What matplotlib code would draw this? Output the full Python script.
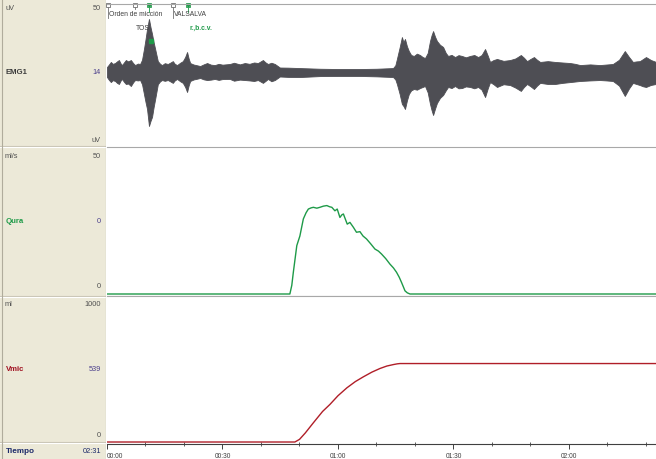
import matplotlib.pyplot as plt
import matplotlib.transforms as mtransforms
from matplotlib.ticker import MultipleLocator, FixedLocator

W, H = 656, 460

# EMG1 envelope, seconds / uV
emg_t = [0, 0.5, 1.0, 1.5, 2.1, 2.6, 3.1, 3.5, 3.9, 4.4, 4.9, 5.5, 6.2, 6.8, 7.3, 8.0, 8.6,
         9.1, 9.6, 10.0, 10.4, 10.9, 11.3, 11.7, 12.1, 12.5, 13.2, 13.8, 14.3, 15.0, 15.8,
         16.5, 17.1, 17.6, 18.2, 19.0, 19.7, 20.3, 20.8, 21.2, 21.6, 22.5, 23.3, 24.2,
         25.1, 26.0, 27.0, 28.0, 29.0, 30.0, 31.9, 33.0, 34.5, 35.8, 37.0, 38.2, 39.2,
         40.5, 41.2, 41.8, 42.7, 43.6, 44.3, 44.9, 47.0, 50.1, 55.3, 60.0, 65.7, 70.0,
         74.3, 74.9, 75.3, 76.0, 76.6, 77.0, 77.4, 77.9, 78.4, 79.0, 79.7, 80.5, 81.3,
         82.0, 82.6, 83.3, 83.9, 84.3, 84.7, 85.2, 85.7, 86.5, 87.3, 88.0, 88.6, 89.5,
         90.4, 91.3, 92.2, 93.2, 94.3, 95.4, 96.4, 97.3, 98.2, 98.9, 99.5, 100.4, 101.3,
         103.0, 104.7, 106.1, 107.5, 108.3, 109.1, 110.0, 110.9, 111.7, 112.5, 114.5,
         116.4, 118.3, 120.3, 121.6, 122.9, 125.5, 128.0, 129.7, 131.4, 133.0, 134.5,
         135.6, 136.6, 137.5, 138.4, 139.2, 140.0, 141.3, 142.6]
emg_hi = [3.7, 5.5, 7.4, 6.0, 6.6, 7.8, 8.8, 6.5, 5.1, 7.0, 8.8, 7.8, 8.8, 6.5, 5.1, 6.2,
          5.9, 9.0, 16.9, 24.0, 31.6, 39.0, 33.0, 28.0, 22.0, 17.0, 8.0, 6.0, 5.1, 6.5, 5.9,
          7.0, 8.0, 6.0, 5.1, 6.8, 8.0, 11.0, 14.7, 10.0, 6.6, 5.5, 5.0, 4.4,
          5.6, 6.6, 5.4, 5.1, 6.0, 5.4, 5.9, 6.8, 5.6, 6.6, 6.0, 7.0, 6.6,
          8.8, 7.0, 5.9, 6.8, 5.9, 4.5, 3.3, 3.2, 2.9, 2.4, 2.2, 2.2, 2.4,
          2.9, 5.0, 9.6, 18.0, 25.7, 22.0, 24.3, 19.0, 15.4, 12.5, 11.8, 13.5, 12.5,
          11.0, 10.3, 14.0, 22.8, 27.0, 30.1, 26.0, 22.8, 20.0, 18.4, 14.0, 11.8, 12.6,
          11.0, 12.4, 11.8, 10.8, 11.8, 12.5, 11.0, 12.5, 16.9, 12.0, 7.4, 8.8, 9.6,
          8.2, 8.8, 10.0, 12.5, 10.5, 8.0, 9.6, 11.0, 9.0, 7.4, 8.0,
          7.4, 7.0, 6.6, 6.0, 5.1, 5.6, 5.1, 5.5, 5.9, 9.0, 15.4,
          11.0, 7.4, 7.8, 8.0, 9.5, 11.0, 8.8, 7.4]
emg_lo = [-3.7, -5.8, -7.4, -6.0, -6.6, -8.0, -8.8, -6.5, -5.1, -7.2, -8.8, -8.5, -10.3,
          -7.5, -5.9, -6.2, -5.9, -9.0, -16.2, -22.0, -27.2, -39.7, -36.0, -33.0, -26.0,
          -20.0, -9.0, -6.8, -5.9, -6.5, -5.9, -7.0, -8.0, -6.2, -5.1, -6.8, -8.0, -11.0,
          -14.7, -10.0, -6.6, -5.5, -5.0, -4.4, -5.4, -5.9, -5.6, -5.1, -5.8, -5.2,
          -5.1, -6.4, -5.6, -5.9, -6.2, -6.6, -5.9, -8.0, -6.5, -5.1, -6.8, -5.9, -4.5,
          -3.3, -3.6, -3.7, -3.0, -2.9, -2.9, -3.2, -3.7, -5.5, -8.8, -16.0, -23.5,
          -25.0, -27.2, -21.0, -16.2, -13.5, -12.5, -13.0, -11.8, -11.0, -10.3, -15.0,
          -23.5, -28.0, -31.6, -27.0, -22.8, -19.0, -16.9, -13.5, -11.0, -11.8, -10.3,
          -12.0, -11.8, -10.6, -11.0, -12.0, -11.0, -13.0, -18.4, -12.0, -7.4, -9.0,
          -11.0, -9.0, -9.6, -11.5, -13.9, -11.0, -8.8, -10.5, -12.5, -10.0, -8.0, -8.8,
          -8.8, -8.0, -7.4, -7.0, -6.6, -6.2, -5.9, -6.2, -6.6, -10.0, -17.6, -12.0,
          -8.0, -8.8, -9.6, -10.5, -11.0, -9.5, -8.8]

# Qura (ml/s)
qura_t = [0, 47.5, 48.0, 48.4, 49.3, 50.1, 51.0, 51.7, 52.3, 53.0, 53.6, 54.5, 55.3,
          56.2, 57.1, 57.8, 58.4, 59.2, 59.8, 60.5, 61.0, 61.4, 62.0, 62.4, 63.1, 64.0,
          64.8, 65.7, 66.5, 67.4, 68.5, 69.6, 70.5, 71.3, 72.4, 73.5, 74.4, 75.2, 75.9,
          76.5, 77.0, 77.4, 78.0, 78.7, 142.6]
qura_v = [0, 0, 3.0, 7.5, 16.7, 20.0, 25.9, 28.0, 29.3, 29.7, 29.9, 29.6, 29.9,
          30.3, 30.5, 30.1, 29.9, 28.7, 29.3, 26.4, 27.3, 27.6, 25.5, 24.1, 24.7, 23.0,
          21.3, 21.5, 20.0, 19.0, 17.3, 15.5, 14.8, 13.8, 12.2, 10.3, 9.0, 7.5, 5.8,
          4.0, 2.4, 1.1, 0.4, 0, 0]

# Vmic (ml)
vmic_t = [0, 48.8, 50.0, 51.5, 53.6, 56.0, 57.9, 60.0, 62.3, 64.5, 66.6, 68.8, 70.9,
          72.7, 74.4, 75.4, 76.1, 142.6]
vmic_v = [0, 0, 18, 62, 132, 210, 258, 318, 372, 415, 448, 480, 505,
          522, 532, 537, 539, 539]

# event markers
event_t = [0.3, 7.3, 10.9, 17.1, 21.0]
event_kind = ['note', 'note', 'check', 'note', 'check']
event_text = ['Orden de micción', 'TOS', '', 'VALSALVA', 'r.,b.c.v.']

time_ticks = [0, 30, 60, 90, 120]
time_labels = ['00:00', '00:30', '01:00', '01:30', '02:00']

FONT = ['Liberation Sans', 'DejaVu Sans']
plt.rcParams['font.family'] = FONT

beige = '#ECE9D8'
grid_gray = '#A8A8A8'
green = '#1E9A48'
red = '#B01E28'
purple = '#4B3F8C'


def box(x0, y0, x1, y1):
    return [x0 / W, 1 - y1 / H, (x1 - x0) / W, (y1 - y0) / H]


def fy(y):
    return 1 - y / H


fig = plt.figure(figsize=(W / 100, H / 100), dpi=100)

# left label panel
lp = fig.add_axes(box(0, 0, 106, 460))
lp.set_xlim(0, 106)
lp.set_ylim(460, 0)
lp.set_facecolor(beige)
lp.set_xticks([])
lp.set_yticks([])
for s in lp.spines.values():
    s.set_visible(False)
for y in [147, 297, 443]:
    lp.plot([0, 106], [y, y], color='#C8C4B4', lw=0.8)
    lp.plot([0, 106], [y + 1.2, y + 1.2], color='white', lw=0.8)
lp.plot([1.5, 1.5], [0, 460], color='#B0AC9C', lw=0.8)
lp.plot([105.5, 105.5], [0, 460], color='#909090', lw=0.8)

small = 5.3
labels = [
    ('uV', 'unit', 5, 8), ('50', 'max', 101, 8), ('EMG1', 'name', 6, 73), ('14', 'val', 101, 73),
    ('uV', 'max', 101, 140),
    ('ml/s', 'unit', 5, 157), ('50', 'max', 101, 157), ('Qura', 'name', 6, 222), ('0', 'val', 101, 222),
    ('0', 'max', 101, 287),
    ('ml', 'unit', 5, 305), ('1000', 'max', 101, 305), ('Vmic', 'name', 6, 370), ('539', 'val', 101, 370),
    ('0', 'max', 101, 436),
]
name_colors = {'EMG1': '#3C3C3C', 'Qura': green, 'Vmic': '#A01020'}
for txt, kind, x, y in labels:
    if kind == 'unit':
        fig.text(x / W, fy(y), txt, fontsize=small, color='#505050', ha='left', va='center')
    elif kind == 'name':
        fig.text(x / W, fy(y), txt, fontsize=small + 0.3, color=name_colors[txt],
                 fontweight='bold', ha='left', va='center')
    elif kind == 'val':
        fig.text(x / W, fy(y), txt, fontsize=small, color=purple, ha='right', va='center')
    else:
        fig.text(x / W, fy(y), txt, fontsize=small, color='#505050', ha='right', va='center')
fig.text(6 / W, fy(452), 'Tiempo', fontsize=small + 0.6, color='#1C2A6A', fontweight='bold',
         ha='left', va='center')
fig.text(101 / W, fy(452), '02:31', fontsize=small, color='#1C2A6A', ha='right', va='center')

XMAX = 142.6

# EMG panel
ax_e = fig.add_axes(box(107, 5, 656, 147))
ax_e.fill_between(emg_t, emg_lo, emg_hi, color='#4E4E54', lw=0.6, edgecolor='#4E4E54')
ax_e.set_ylim(-54.4, 50)

# Qura panel
ax_q = fig.add_axes(box(107, 148, 656, 297))
ax_q.plot(qura_t, qura_v, color=green, lw=1.0)
ax_q.set_ylim(-0.69, 50.7)

# Vmic panel
ax_v = fig.add_axes(box(107, 297, 656, 445))
ax_v.plot(vmic_t, vmic_v, color=red, lw=1.0)
ax_v.set_ylim(-13.7, 1003)

for ax in (ax_e, ax_q, ax_v):
    ax.set_xlim(0, XMAX)
    ax.set_yticks([])
    ax.set_xticks([])
    for side in ('left', 'right', 'bottom'):
        ax.spines[side].set_visible(False)
    ax.spines['top'].set_color(grid_gray)
    ax.spines['top'].set_linewidth(0.8)
ax_q.spines['bottom'].set_visible(True)
ax_q.spines['bottom'].set_color(grid_gray)
ax_q.spines['bottom'].set_linewidth(0.8)

# time axis on the Vmic panel
ax_v.spines['bottom'].set_visible(True)
ax_v.spines['bottom'].set_color('#404040')
ax_v.spines['bottom'].set_linewidth(0.8)
ax_v.xaxis.set_major_locator(FixedLocator(time_ticks))
ax_v.set_xticklabels(time_labels, fontsize=4.8, color='#404040')
ax_v.xaxis.set_minor_locator(MultipleLocator(10))
ax_v.tick_params(axis='x', which='major', direction='out', length=3.5, width=0.7,
                 color='#404040', pad=2)
ax_v.tick_params(axis='x', which='minor', direction='inout', length=2.5, width=0.6,
                 color='#404040')
ax_v.get_xticklabels()[0].set_ha('left')

# event markers over EMG
trans = mtransforms.blended_transform_factory(ax_e.transData, fig.transFigure)
for t, kind, txt in zip(event_t, event_kind, event_text):
    col = '#707070' if kind == 'note' else green
    stem_end = 13 if kind == 'check' else 10
    if txt in ('Orden de micción', 'VALSALVA'):
        stem_end = 19
    ax_e.plot([t, t], [fy(7), fy(stem_end)], color=col, lw=0.6, transform=trans, clip_on=False)
    ax_e.plot([t], [fy(6)], marker='s', ms=3.0, mfc='white', mec=col, mew=0.6,
              transform=trans, clip_on=False)
    if kind == 'check':
        ax_e.plot([t], [fy(6)], marker='s', ms=1.2, mfc=col, mec=col, transform=trans,
                  clip_on=False)
    if txt in ('Orden de micción', 'VALSALVA'):
        ax_e.text(t + 0.2, fy(15), txt, fontsize=4.9, color='#404040', ha='left',
                  va='center', transform=trans)
    elif txt == 'TOS':
        ax_e.text(t + 0.2, fy(28), txt, fontsize=4.9, color='#404040', ha='left',
                  va='center', transform=trans)
    elif txt:
        ax_e.text(t + 0.3, fy(28), txt, fontsize=4.9, color=green, ha='left',
                  va='center', transform=trans, fontweight='bold')
# small green tag on the cough spike
ax_e.plot([event_t[2] + 0.6], [fy(42)], marker='s', ms=2.5, mfc=green, mec=green,
          transform=trans, clip_on=False)

fig.savefig('out.png', dpi=100)
